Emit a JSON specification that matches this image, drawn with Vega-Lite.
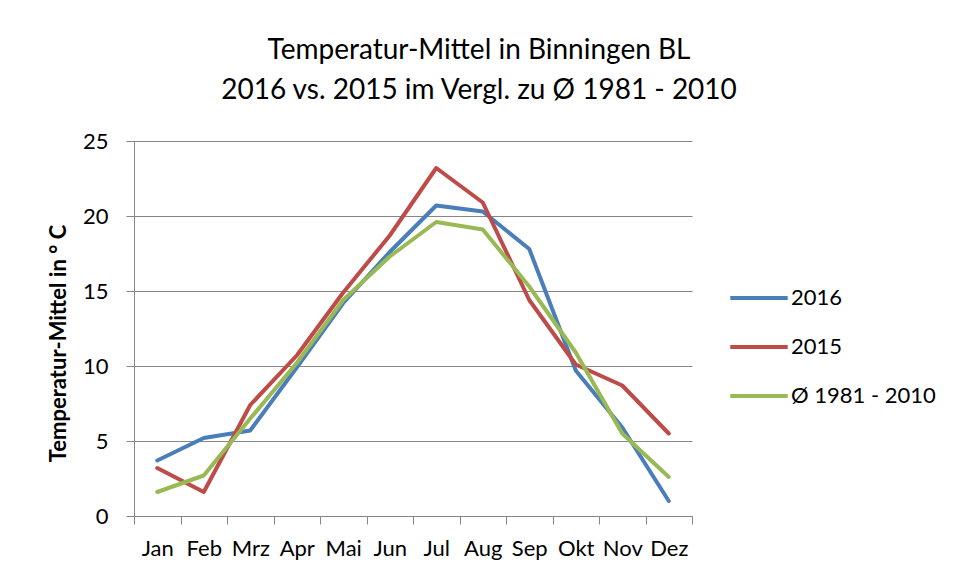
{
  "$schema": "https://vega.github.io/schema/vega-lite/v6.json",
  "autosize": {"type": "none"},
  "padding": {"left": 134, "top": 141, "right": 266, "bottom": 59},
  "width": 558,
  "height": 375,
  "background": "white",
  "title": {
    "text": ["Temperatur-Mittel in Binningen BL", "2016 vs. 2015 im Vergl. zu Ø 1981 - 2010"],
    "font": "Lato",
    "fontSize": 28,
    "fontWeight": "normal",
    "color": "#000000",
    "lineHeight": 40,
    "anchor": "middle",
    "dx": 66,
    "offset": 25
  },
  "data": {
    "values": [
      {"Monat": "Jan", "Serie": "2016", "Wert": 3.7},
      {"Monat": "Feb", "Serie": "2016", "Wert": 5.2},
      {"Monat": "Mrz", "Serie": "2016", "Wert": 5.7},
      {"Monat": "Apr", "Serie": "2016", "Wert": 9.9},
      {"Monat": "Mai", "Serie": "2016", "Wert": 14.2},
      {"Monat": "Jun", "Serie": "2016", "Wert": 17.6},
      {"Monat": "Jul", "Serie": "2016", "Wert": 20.7},
      {"Monat": "Aug", "Serie": "2016", "Wert": 20.3},
      {"Monat": "Sep", "Serie": "2016", "Wert": 17.8},
      {"Monat": "Okt", "Serie": "2016", "Wert": 9.7},
      {"Monat": "Nov", "Serie": "2016", "Wert": 5.9},
      {"Monat": "Dez", "Serie": "2016", "Wert": 1.0},
      {"Monat": "Jan", "Serie": "2015", "Wert": 3.2},
      {"Monat": "Feb", "Serie": "2015", "Wert": 1.6},
      {"Monat": "Mrz", "Serie": "2015", "Wert": 7.4},
      {"Monat": "Apr", "Serie": "2015", "Wert": 10.7},
      {"Monat": "Mai", "Serie": "2015", "Wert": 14.9},
      {"Monat": "Jun", "Serie": "2015", "Wert": 18.7},
      {"Monat": "Jul", "Serie": "2015", "Wert": 23.2},
      {"Monat": "Aug", "Serie": "2015", "Wert": 20.9},
      {"Monat": "Sep", "Serie": "2015", "Wert": 14.4},
      {"Monat": "Okt", "Serie": "2015", "Wert": 10.1},
      {"Monat": "Nov", "Serie": "2015", "Wert": 8.7},
      {"Monat": "Dez", "Serie": "2015", "Wert": 5.5},
      {"Monat": "Jan", "Serie": "Ø 1981 - 2010", "Wert": 1.6},
      {"Monat": "Feb", "Serie": "Ø 1981 - 2010", "Wert": 2.7},
      {"Monat": "Mrz", "Serie": "Ø 1981 - 2010", "Wert": 6.5},
      {"Monat": "Apr", "Serie": "Ø 1981 - 2010", "Wert": 10.2},
      {"Monat": "Mai", "Serie": "Ø 1981 - 2010", "Wert": 14.4},
      {"Monat": "Jun", "Serie": "Ø 1981 - 2010", "Wert": 17.3},
      {"Monat": "Jul", "Serie": "Ø 1981 - 2010", "Wert": 19.6},
      {"Monat": "Aug", "Serie": "Ø 1981 - 2010", "Wert": 19.1},
      {"Monat": "Sep", "Serie": "Ø 1981 - 2010", "Wert": 15.3},
      {"Monat": "Okt", "Serie": "Ø 1981 - 2010", "Wert": 10.9},
      {"Monat": "Nov", "Serie": "Ø 1981 - 2010", "Wert": 5.5},
      {"Monat": "Dez", "Serie": "Ø 1981 - 2010", "Wert": 2.6}
    ]
  },
  "mark": {"type": "line", "strokeWidth": 4, "strokeCap": "round", "strokeJoin": "round"},
  "encoding": {
    "x": {
      "field": "Monat",
      "type": "ordinal",
      "sort": ["Jan", "Feb", "Mrz", "Apr", "Mai", "Jun", "Jul", "Aug", "Sep", "Okt", "Nov", "Dez"],
      "scale": {"paddingInner": 0, "paddingOuter": 0},
      "axis": {
        "title": null,
        "tickBand": "extent",
        "grid": false,
        "labelAngle": 0,
        "tickSize": 8,
        "labelPadding": 14,
        "labelFontSize": 22,
        "labelFont": "Lato",
        "labelColor": "#000000",
        "domainColor": "#868686",
        "tickColor": "#868686"
      }
    },
    "y": {
      "field": "Wert",
      "type": "quantitative",
      "scale": {"domain": [0, 25], "nice": false},
      "axis": {
        "title": "Temperatur-Mittel in ° C",
        "titleFont": "Lato",
        "titleFontSize": 22,
        "titleFontWeight": "bold",
        "titleColor": "#000000",
        "titlePadding": 12,
        "titleY": 202,
        "values": [0, 5, 10, 15, 20, 25],
        "grid": true,
        "gridColor": "#868686",
        "gridWidth": 1,
        "tickSize": 8,
        "labelPadding": 18,
        "labelFontSize": 22,
        "labelFont": "Lato",
        "labelColor": "#000000",
        "domainColor": "#868686",
        "tickColor": "#868686"
      }
    },
    "color": {
      "field": "Serie",
      "type": "nominal",
      "scale": {
        "domain": ["2016", "2015", "Ø 1981 - 2010"],
        "range": ["#4a7ebb", "#be4b48", "#98b954"]
      },
      "legend": {
        "title": null,
        "orient": "none",
        "legendX": 594,
        "legendY": 146,
        "symbolType": "stroke",
        "symbolSize": 3300,
        "symbolStrokeWidth": 4,
        "clipHeight": 22,
        "rowPadding": 27,
        "labelFontSize": 22,
        "labelFont": "Lato",
        "labelColor": "#000000",
        "labelOffset": 1
      }
    }
  },
  "config": {"view": {"stroke": null}}
}
